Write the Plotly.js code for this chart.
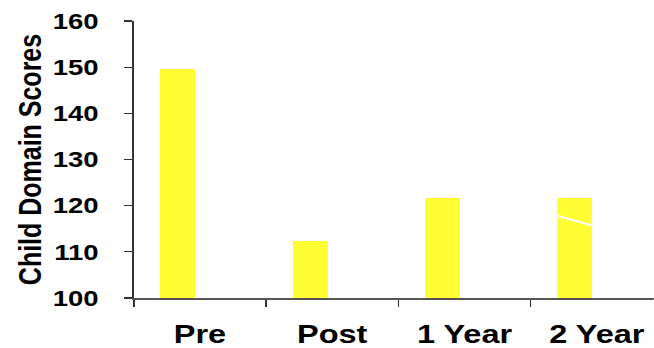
<!DOCTYPE html>
<html>
<head>
<meta charset="utf-8">
<script src="https://cdn.plot.ly/plotly-3.0.1.min.js"></script>
<style>
  html, body { margin: 0; padding: 0; overflow: hidden; background: #fff; }
  /* the chart is laid out narrow and widened horizontally */
  #chart { width: 523px; height: 348px; transform: scaleX(1.25); transform-origin: 0 0; }
</style>
</head>
<body>
<div id="chart"></div>
<script>
// Child domain scores at each assessment point
const timepoints = ['Pre', 'Post', '1 Year', '2 Year'];
const childDomainScores = [149.5, 112.3, 121.6, 121.6];
const yTicks = [100, 110, 120, 130, 140, 150, 160];
const axisFloor = 100;

const boldFont = { family: 'Liberation Sans, Arial, sans-serif', weight: 700, color: '#000' };

// bars rise from the axis floor, so heights are value - floor
const trace = {
  type: 'bar',
  x: timepoints,
  y: childDomainScores.map(v => v - axisFloor),
  base: axisFloor,
  marker: { color: '#FFFF33', line: { width: 0 } },
  width: 0.265,
  offset: -0.3,
  hoverinfo: 'skip'
};

const layout = {
  width: 523,
  height: 348,
  margin: { l: 106.6, r: 0, t: 20.7, b: 49.7 },
  paper_bgcolor: '#fff',
  plot_bgcolor: '#fff',
  showlegend: false,
  bargap: 0,
  xaxis: {
    type: 'category',
    range: [-0.5, 3.43],
    tickson: 'boundaries',
    ticks: 'outside',
    ticklen: 7,
    tickwidth: 1.2,
    tickcolor: '#333',
    showline: true,
    linecolor: '#555',
    linewidth: 2,
    showgrid: false,
    zeroline: false,
    ticklabelstandoff: 12,
    tickfont: Object.assign({ size: 26 }, boldFont),
    fixedrange: true
  },
  yaxis: {
    range: [axisFloor, 160],
    tickvals: yTicks,
    ticktext: yTicks.map(String),
    ticks: 'outside',
    ticklen: 6.5,
    tickwidth: 1.2,
    tickcolor: '#333',
    showline: true,
    linecolor: '#333',
    linewidth: 1.2,
    showgrid: false,
    zeroline: false,
    ticklabelstandoff: 16,
    tickfont: Object.assign({ size: 22 }, boldFont),
    title: { text: 'Child Domain Scores', font: Object.assign({ size: 25 }, boldFont), standoff: 1 },
    fixedrange: true
  },
  shapes: [{
    type: 'line',
    xref: 'x', yref: 'y',
    x0: 2.7, x1: 2.965,
    y0: 117.8, y1: 115.7,
    line: { color: '#fff', width: 2 },
    layer: 'above'
  }]
};

Plotly.newPlot('chart', [trace], layout, { displayModeBar: false, staticPlot: true });
</script>
</body>
</html>
